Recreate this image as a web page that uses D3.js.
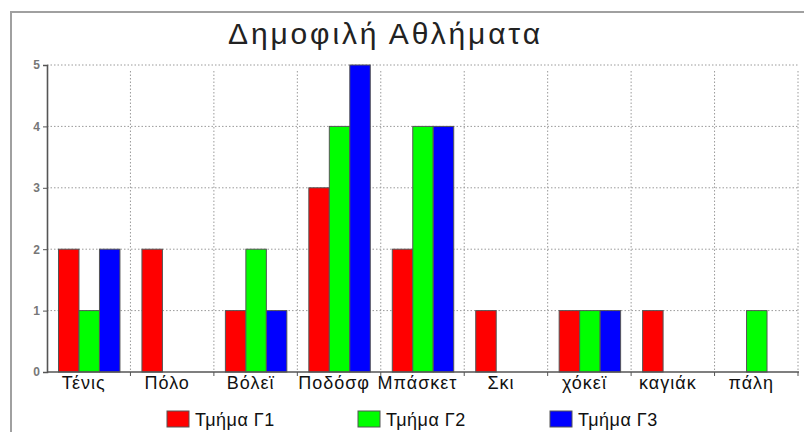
<!DOCTYPE html>
<html>
<head>
<meta charset="utf-8">
<script src="https://cdn.jsdelivr.net/npm/d3@7"></script>
<style>
  html, body { margin: 0; padding: 0; background: #fff; }
  svg { display: block; }
</style>
</head>
<body>
<svg id="chart" width="804" height="432"></svg>
<script>
const title = "Δημοφιλή Αθλήματα";
const categories = ["Τένις", "Πόλο", "Βόλεϊ", "Ποδόσφ", "Μπάσκετ", "Σκι", "χόκεϊ", "καγιάκ", "πάλη"];
const seriesNames = ["Τμήμα Γ1", "Τμήμα Γ2", "Τμήμα Γ3"];
const seriesColors = ["#ff0000", "#00ff00", "#0000ff"];
const g1 = [2, 2, 1, 3, 2, 1, 1, 1, 0];
const g2 = [1, 0, 2, 4, 4, 0, 1, 0, 1];
const g3 = [2, 0, 1, 5, 4, 0, 1, 0, 0];
const yTicks = [0, 1, 2, 3, 4, 5];

const seriesValues = [g1, g2, g3];
const svg = d3.select("#chart");
const font = "'Liberation Sans', Arial, sans-serif";

// frame
svg.append("rect").attr("x", 11).attr("y", 12).attr("width", 900).attr("height", 500)
  .attr("fill", "none").attr("stroke", "#a0a0a0").attr("stroke-width", 2);

const plotL = 47, plotR = 798, plotT = 65, plotB = 372;

const x0 = d3.scaleBand().domain(categories).range([plotL, plotR]).padding(0);
const bw = x0.bandwidth();
const x1 = d3.scaleBand().domain(seriesNames).range([11.5, bw - 10.5]).padding(0);
const y = d3.scaleLinear().domain([0, 5]).range([plotB, plotT]);

// title
svg.append("text").attr("x", 384).attr("y", 44).attr("text-anchor", "middle")
  .attr("font-family", font).attr("font-size", 30).attr("fill", "#222")
  .attr("textLength", 312).attr("lengthAdjust", "spacing")
  .text(title);

// horizontal grid
svg.append("g").selectAll("line").data(yTicks.filter(d => d > 0)).join("line")
  .attr("x1", plotL).attr("x2", plotR).attr("y1", d => y(d)).attr("y2", d => y(d))
  .attr("stroke", "#9a9a9a").attr("stroke-dasharray", "1.5,2");

// vertical grid at category boundaries
svg.append("g").selectAll("line").data(categories).join("line")
  .attr("x1", d => x0(d) + bw).attr("x2", d => x0(d) + bw)
  .attr("y1", plotT + 6).attr("y2", plotB)
  .attr("stroke", "#9a9a9a").attr("stroke-dasharray", "1.5,2");

// bars
const groups = svg.append("g").selectAll("g").data(categories).join("g")
  .attr("transform", d => `translate(${x0(d)},0)`);
groups.selectAll("rect")
  .data((c, i) => seriesNames.map((s, k) => ({ s, k, v: seriesValues[k][i] })).filter(d => d.v > 0))
  .join("rect")
  .attr("x", d => x1(d.s)).attr("width", x1.bandwidth())
  .attr("y", d => y(d.v)).attr("height", d => y(0) - y(d.v))
  .attr("fill", d => seriesColors[d.k]).attr("stroke", "#555").attr("stroke-width", 1);

// y axis
const yAxis = svg.append("g").attr("transform", `translate(${plotL},0)`)
  .call(d3.axisLeft(y).tickValues(yTicks).tickFormat(d3.format("d")).tickSize(4).tickPadding(3));
yAxis.select(".domain").attr("stroke", "#555").attr("stroke-width", 1.6);
yAxis.selectAll(".tick line").attr("stroke", "#555");
yAxis.selectAll(".tick text").attr("font-family", font).attr("font-size", 12)
  .attr("font-weight", "bold").attr("fill", "#777");

// x axis line and boundary ticks
svg.append("line").attr("x1", plotL).attr("x2", plotR + 1).attr("y1", plotB).attr("y2", plotB)
  .attr("stroke", "#555").attr("stroke-width", 1.6);
svg.append("g").selectAll("line").data(categories).join("line")
  .attr("x1", d => x0(d) + bw).attr("x2", d => x0(d) + bw)
  .attr("y1", plotB).attr("y2", plotB + 4).attr("stroke", "#555");

// category labels
const xAxis = svg.append("g").attr("transform", `translate(0,${plotB})`)
  .call(d3.axisBottom(x0).tickSize(0).tickPadding(4));
xAxis.select(".domain").remove();
xAxis.selectAll(".tick text").attr("font-family", font).attr("font-size", 18)
  .attr("fill", "#111").attr("dx", -5).attr("letter-spacing", 1).attr("dy", "0.7em");

// legend
const legendX = [167, 358, 550];
const legend = svg.append("g").selectAll("g").data(seriesNames).join("g")
  .attr("transform", (d, i) => `translate(${legendX[i]},411)`);
legend.append("rect").attr("width", 22).attr("height", 16)
  .attr("fill", (d, i) => seriesColors[i]).attr("stroke", "#555");
legend.append("text").attr("x", 28).attr("y", 15)
  .attr("font-family", font).attr("font-size", 18).attr("fill", "#111")
  .attr("letter-spacing", 0.5)
  .text(d => d);
</script>
</body>
</html>
